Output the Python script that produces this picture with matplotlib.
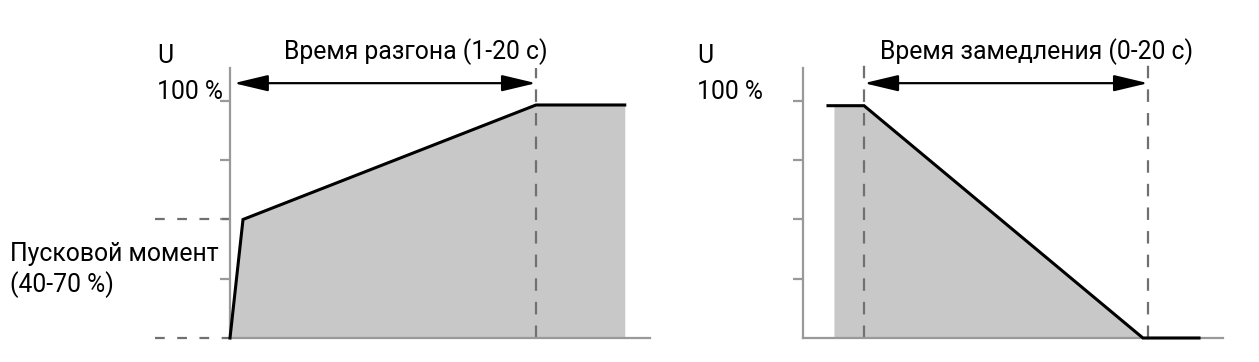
import matplotlib
matplotlib.use("Agg")
import matplotlib.pyplot as plt

plt.rcParams['font.family'] = ['Roboto', 'DejaVu Sans']
plt.rcParams['lines.scale_dashes'] = False

# --- data -------------------------------------------------------------
# разгон: время (условные единицы), напряжение U, %
acc_t = [0, 0.85, 20.0, 25.8]
acc_u = [0, 50, 98.3, 98.3]
acc_start_torque = 50
acc_ramp_end = 20.0

# замедление
dec_line_t = [1.76, 4.3, 23.94, 27.89]
dec_line_u = [98, 98, 0, 0]
dec_fill_t = [2.18, 4.3, 23.94]
dec_fill_u = [98, 98, 0]
dec_start = 4.3
dec_end = 24.3

u_ticks = [0, 25, 50, 75, 100]

title_acc = 'Время разгона (1-20 с)'
title_dec = 'Время замедления (0-20 с)'
torque_label = 'Пусковой момент\n(40-70 %)'

W, H = 1259, 362
fig = plt.figure(figsize=(W / 100, H / 100), dpi=100)

axis_col = '#999999'
dash_col = '#707070'
fill_col = '#c8c8c8'
fs = 17.8


def setup(ax, xmax):
    ax.set_xlim(0, xmax)
    ax.set_ylim(0, 113.9)
    for s in ['top', 'right']:
        ax.spines[s].set_visible(False)
    for s in ['left', 'bottom']:
        ax.spines[s].set_color(axis_col)
        ax.spines[s].set_linewidth(1.6)
    ax.set_xticks([])
    ax.set_yticks(u_ticks[1:])
    ax.set_yticklabels([])
    ax.tick_params(axis='y', length=7, width=1.6, color=axis_col, direction='out')
    ax.patch.set_alpha(0)


def arrow(ax, x0, x1, y):
    ax.annotate('', xy=(x1, y), xytext=(x0, y), annotation_clip=False,
                arrowprops=dict(arrowstyle='<|-|>,head_length=2.1,head_width=0.5',
                                mutation_scale=10, color='black', lw=1.6,
                                shrinkA=0, shrinkB=0))


# левый график: разгон
ax1 = fig.add_axes([230 / W, (H - 338) / H, 420 / W, 270 / H])
setup(ax1, 27.45)
ax1.fill_between(acc_t, acc_u, 0, color=fill_col, lw=0)
ax1.plot(acc_t, acc_u, color='black', lw=2.2, solid_joinstyle='miter',
         clip_on=False, zorder=4)
ax1.plot([acc_ramp_end, acc_ramp_end], [0, 113.9], color=dash_col, lw=1.6,
         dashes=(9, 8), clip_on=False)
for y in [acc_start_torque, 0]:
    ax1.plot([-4.9, 0], [y, y], color=dash_col, lw=1.6, dashes=(7, 9), clip_on=False)
arrow(ax1, 0.25, acc_ramp_end, 107.5)

# правый график: замедление
ax2 = fig.add_axes([803 / W, (H - 338) / H, 420 / W, 270 / H])
setup(ax2, 29.58)
ax2.fill_between(dec_fill_t, dec_fill_u, 0, color=fill_col, lw=0)
ax2.plot(dec_line_t, dec_line_u, color='black', lw=2.2, solid_joinstyle='miter',
         clip_on=False, zorder=4)
for x in [dec_start, dec_end]:
    ax2.plot([x, x], [0, 116.5], color=dash_col, lw=1.6, dashes=(9, 8), clip_on=False)
arrow(ax2, dec_start, dec_end, 107.5)

# подписи
fig.text(157 / W, 1 - 56 / H, 'U', fontsize=fs, va='center', ha='left')
fig.text(157 / W, 1 - 92 / H, '100 %', fontsize=fs, va='center', ha='left')
fig.text(697 / W, 1 - 56 / H, 'U', fontsize=fs, va='center', ha='left')
fig.text(697 / W, 1 - 92 / H, '100 %', fontsize=fs, va='center', ha='left')
fig.text(416 / W, 1 - 52 / H, title_acc, fontsize=fs, va='center', ha='center')
fig.text(1037 / W, 1 - 52 / H, title_dec, fontsize=fs, va='center', ha='center')
fig.text(10 / W, 1 - 270 / H, torque_label, fontsize=fs, va='center', ha='left',
         linespacing=1.25)

fig.savefig('out.png', dpi=100)
